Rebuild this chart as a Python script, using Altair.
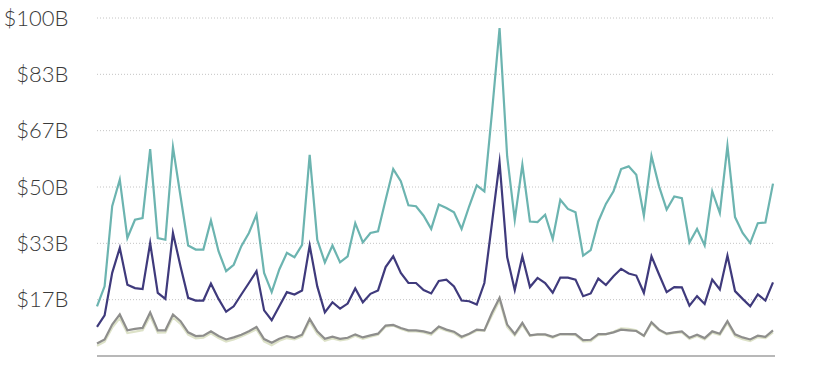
import altair as alt
import pandas as pd

teal = [14.7, 20.6, 44.3, 52.2, 34.9, 40.3, 40.8, 61.2, 34.9, 34.4,
        61.8, 47.2, 32.7, 31.5, 31.5, 40.1, 31.0, 25.1, 27.0, 32.5,
        36.4, 41.8, 24.6, 18.9, 25.6, 30.5, 29.2, 32.9, 59.5, 34.4,
        27.7, 32.7, 27.7, 29.5, 39.3, 33.6, 36.4, 36.9, 46.2, 55.3,
        51.7, 44.6, 44.3, 41.5, 37.6, 44.8, 43.8, 42.5, 37.6, 44.3,
        50.5, 48.7, 72.0, 97.0, 59.1, 40.3, 56.6, 39.8, 39.6, 41.8,
        34.6, 46.2, 43.5, 42.5, 29.7, 31.3, 39.8, 45.0, 48.7, 55.3,
        56.1, 53.6, 41.5, 59.2, 50.2, 43.3, 47.2, 46.7, 33.6, 37.6,
        32.7, 48.7, 42.3, 62.2, 41.1, 36.4, 33.4, 39.3, 39.5, 51.0]

purple = [8.6, 12.0, 24.6, 32.0, 21.1, 20.1, 19.8, 33.4, 18.7, 16.9,
          36.4, 26.5, 17.2, 16.4, 16.4, 21.4, 16.9, 13.1, 14.7, 18.2,
          21.6, 25.1, 13.5, 10.6, 14.7, 18.9, 18.2, 19.4, 32.7, 20.6,
          12.9, 15.9, 14.0, 15.5, 20.0, 15.9, 18.4, 19.4, 26.3, 29.5,
          24.6, 21.6, 21.6, 19.5, 18.5, 22.2, 22.6, 20.6, 16.4, 16.2,
          15.2, 21.6, 39.3, 57.3, 29.3, 19.5, 29.5, 20.4, 23.1, 21.6,
          18.7, 23.2, 23.2, 22.6, 17.7, 18.5, 22.9, 21.0, 23.6, 25.8,
          24.4, 23.8, 18.7, 29.5, 24.1, 18.9, 20.4, 20.3, 14.9, 17.7,
          15.4, 22.6, 19.7, 29.7, 19.2, 16.9, 14.7, 18.2, 16.4, 21.8]

gray = [3.7, 4.9, 9.3, 12.3, 7.6, 8.0, 8.3, 12.9, 7.6, 7.6,
        12.3, 10.3, 7.0, 5.9, 6.0, 7.3, 5.9, 4.9, 5.5, 6.3,
        7.3, 8.6, 5.0, 3.9, 5.1, 5.9, 5.4, 6.3, 11.0, 7.3,
        5.1, 5.7, 5.1, 5.4, 6.4, 5.5, 6.1, 6.6, 9.0, 9.2,
        8.3, 7.6, 7.6, 7.3, 6.7, 8.7, 7.8, 7.2, 5.7, 6.6,
        7.8, 7.6, 12.8, 17.2, 9.3, 6.5, 9.8, 6.1, 6.4, 6.4,
        5.7, 6.5, 6.5, 6.5, 4.7, 4.8, 6.5, 6.5, 7.0, 7.8,
        7.6, 7.4, 6.0, 10.0, 7.8, 6.6, 7.0, 7.3, 5.4, 6.3,
        5.3, 7.3, 6.6, 10.3, 6.4, 5.5, 4.9, 6.0, 5.7, 7.6]

pale = [3.0, 4.2, 8.4, 11.2, 6.8, 7.2, 7.6, 11.8, 6.9, 7.0,
        11.4, 9.5, 6.3, 5.2, 5.4, 6.7, 5.3, 4.3, 4.9, 5.8,
        6.8, 7.9, 4.3, 3.2, 4.5, 5.3, 4.9, 5.8, 10.2, 6.6,
        4.5, 5.2, 4.6, 5.0, 6.0, 5.1, 5.7, 6.3, 8.7, 9.0,
        8.0, 7.3, 7.3, 7.0, 6.3, 8.3, 7.5, 6.8, 5.3, 6.4,
        7.5, 7.5, 12.0, 16.4, 8.6, 6.1, 9.2, 6.0, 6.3, 6.2,
        5.4, 6.4, 6.4, 6.2, 4.3, 4.4, 6.2, 6.4, 7.2, 8.2,
        8.0, 7.6, 5.9, 9.6, 7.6, 6.4, 6.8, 7.0, 5.0, 5.9,
        4.9, 6.9, 6.2, 9.8, 5.9, 5.0, 4.4, 5.6, 5.3, 7.0]

tick_values = [0, 100 / 6, 200 / 6, 50, 400 / 6, 500 / 6, 100]

series = [("A", teal, "#6cb4b0"), ("B", purple, "#3f3a7c"),
          ("D", pale, "#dde2c8"), ("C", gray, "#8e8e8c")]

n = len(teal)
rows = []
for name, vals, _ in series:
    for i, v in enumerate(vals):
        rows.append({"i": i, "value": v, "series": name})
df = pd.DataFrame(rows)

x_enc = alt.X("i:Q", scale=alt.Scale(domain=[0, n - 1], nice=False, zero=False), axis=None)
y_scale = alt.Scale(domain=[0, 100], nice=False)

base = alt.Chart(df)

grid = alt.Chart(pd.DataFrame({"t": tick_values})).mark_rule(
    color="#c4c4c4", strokeWidth=1, strokeDash=[1, 2]
).encode(
    y=alt.Y("t:Q", scale=y_scale, axis=alt.Axis(
        values=tick_values, title=None, domain=False, ticks=False, grid=False,
        labelExpr="datum.value == 0 ? '' : '$' + format(datum.value, '.0f') + 'B'",
        labelFont="Lato", labelFontSize=22, labelFontWeight=300,
        labelColor="#3a3a3a", labelPadding=29,
    )),
    x=alt.value(0), x2=alt.value(676),
).transform_filter("datum.t > 0")

layers = [grid]
for name, _, col in series:
    layers.append(
        base.transform_filter(alt.datum.series == name).mark_line(
            color=col, strokeWidth=2.2, strokeJoin="miter", strokeMiterLimit=10
        ).encode(x=x_enc, y=alt.Y("value:Q", scale=y_scale))
    )

baseline = alt.Chart(pd.DataFrame({"t": [0]})).mark_rule(
    color="#a0a0a0", strokeWidth=1.5
).encode(y=alt.Y("t:Q", scale=y_scale), x=alt.value(0), x2=alt.value(678))
layers.append(baseline)

chart = alt.layer(*layers).properties(
    width=676, height=338,
    background="white",
    autosize=alt.AutoSizeParams(type="none"),
    padding={"left": 97, "top": 18, "right": 61, "bottom": 20},
).configure_view(stroke=None)

chart.save("out.html", embed_options={"renderer": "svg", "actions": False})
